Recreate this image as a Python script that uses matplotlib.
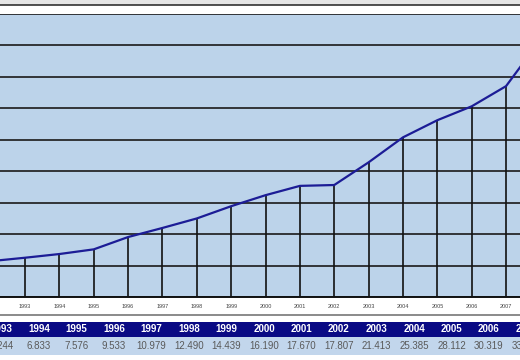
import matplotlib
matplotlib.use("Agg")
import matplotlib.pyplot as plt
from matplotlib.patches import Rectangle
from matplotlib.lines import Line2D

years = [1992, 1993, 1994, 1995, 1996, 1997, 1998, 1999, 2000,
         2001, 2002, 2003, 2004, 2005, 2006, 2007, 2008]
values = [5.7, 6.244, 6.833, 7.576, 9.533, 10.979, 12.490, 14.439, 16.190,
          17.670, 17.807, 21.413, 25.385, 28.112, 30.319, 33.530, 40.9]
table_years = years[1:16]
table_values = values[1:16]
tick_years = years[1:16]
y_ticks = [0, 5, 10, 15, 20, 25, 30, 35, 40, 45]

W, H = 520, 360
fig = plt.figure(figsize=(W / 100, H / 100), dpi=100)
fig.patch.set_facecolor("white")

def fx(px):
    return px / W

def fy(py):
    return 1 - py / H

# top decoration
fig.add_artist(Rectangle((0, fy(4.5)), 1, fy(0) - fy(4.5), transform=fig.transFigure,
                         facecolor="#e6e6e6", edgecolor="none"))
fig.add_artist(Line2D([0, 1], [fy(5), fy(5)], transform=fig.transFigure,
                      color="#222222", lw=1.1))

ax = fig.add_axes([0, fy(297), 1, fy(14) - fy(297)])
ax.set_facecolor("#bcd3ea")
ax.set_yticks(y_ticks)
ax.set_yticklabels([])
ax.tick_params(axis="y", length=0)
ax.grid(axis="y", color="#1a1a1a", lw=1.2)
ax.set_axisbelow(True)
for s in ["left", "right", "top"]:
    ax.spines[s].set_visible(False)
ax.spines["bottom"].set_color("#111111")
ax.spines["bottom"].set_linewidth(1.4)

ax.vlines(years, 0, values, color="#111111", lw=1.2, zorder=2)
ax.plot(years, values, color="#1c1c96", lw=1.6, zorder=3, solid_joinstyle="round")

ax.set_xticks(tick_years)
ax.set_xticklabels([str(y) for y in tick_years], fontsize=4, color="#444444",
                   family="Liberation Sans")
ax.tick_params(axis="x", length=0, pad=5)
ax.set_xlim(1992.272, 2007.406)
ax.set_ylim(0, 45)

# separator line
fig.add_artist(Line2D([0, 1], [fy(315), fy(315)], transform=fig.transFigure,
                      color="#8a8a8a", lw=1.4))

# table bands
fig.add_artist(Rectangle((0, fy(337)), 1, fy(322) - fy(337), transform=fig.transFigure,
                         facecolor="#0a0a84", edgecolor="none"))
fig.add_artist(Rectangle((0, fy(355)), 1, fy(337) - fy(355), transform=fig.transFigure,
                         facecolor="#c2d6ec", edgecolor="none"))

for i, (yr, v) in enumerate(zip(table_years, table_values)):
    cx = 1.5 + 37.5 * i
    fig.text(fx(cx), fy(329.5), str(yr), ha="center", va="center", color="white",
             fontsize=7, fontweight="bold", family="Liberation Sans")
    fig.text(fx(cx), fy(346), f"{v:.3f}", ha="center", va="center", color="#5a5a5a",
             fontsize=7, family="Liberation Sans")

fig.savefig("out.png", dpi=100)
